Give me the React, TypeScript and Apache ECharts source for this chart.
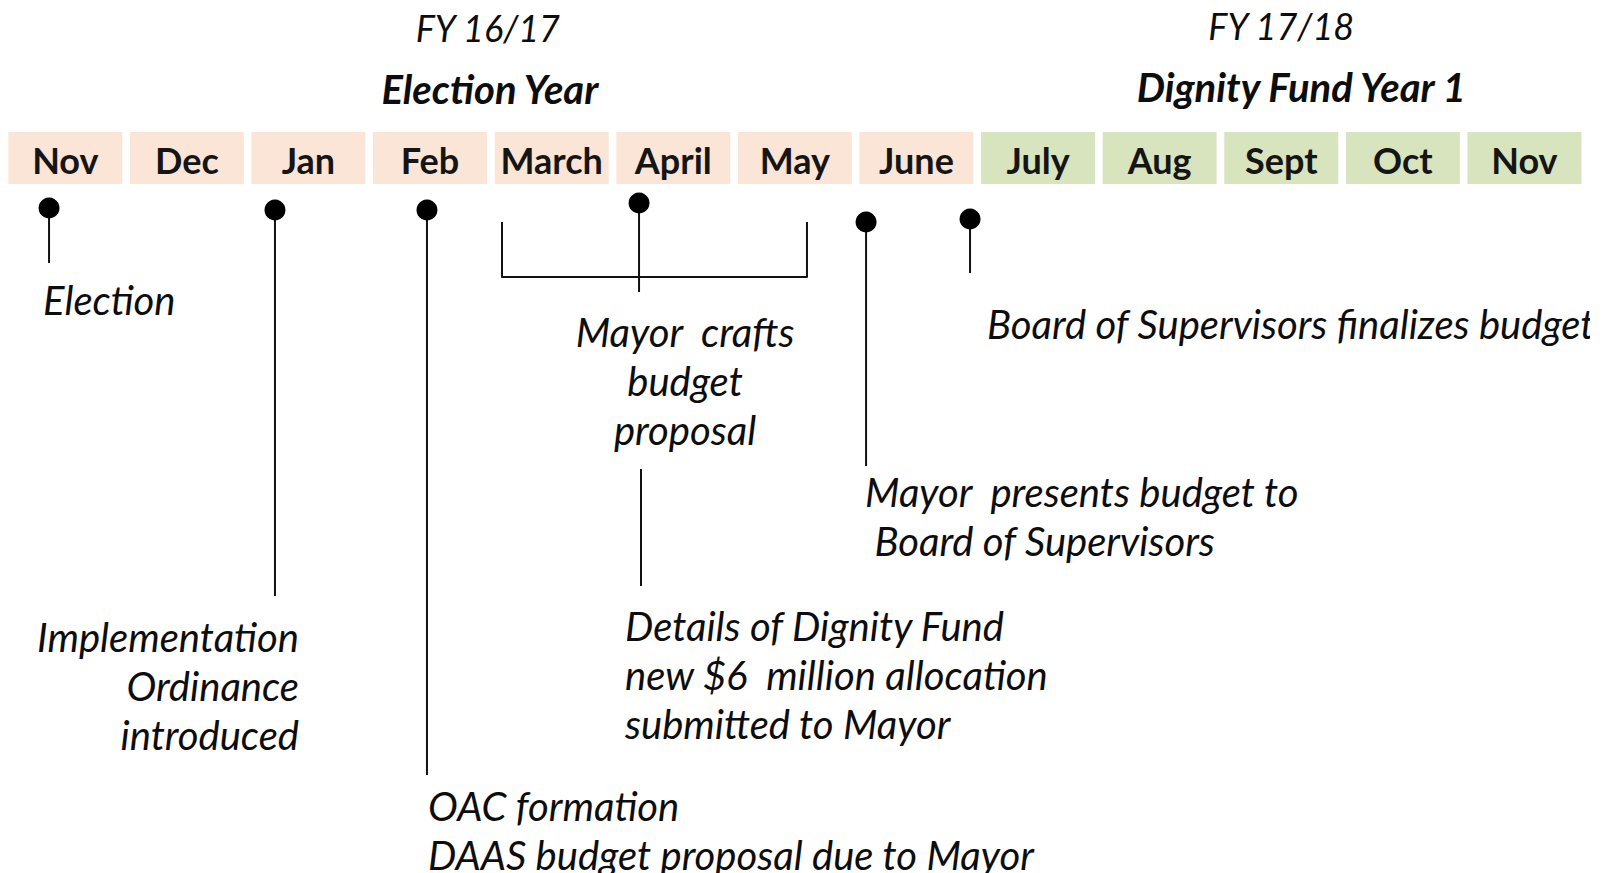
import React, { useEffect, useRef } from 'react';
import * as echarts from 'echarts';

// ---- data ----
const months = ['Nov', 'Dec', 'Jan', 'Feb', 'March', 'April', 'May', 'June', 'July', 'Aug', 'Sept', 'Oct', 'Nov'];
const monthPhase = [0, 0, 0, 0, 0, 0, 0, 0, 1, 1, 1, 1, 1];
const fiscalYears = ['FY 16/17', 'FY 17/18'];
const phaseTitles = ['Election Year', 'Dignity Fund Year 1'];

// milestone positions, in months from the first Nov
const milestoneMonth = [0.335, 2.193, 3.443, 5.187, 7.054, 7.909];
const milestoneText = [
  ['Election'],
  ['Implementation', 'Ordinance', 'introduced'],
  ['OAC formation', 'DAAS budget proposal due to Mayor'],
  ['Mayor  crafts', 'budget', 'proposal'],
  ['Mayor  presents budget to', ' Board of Supervisors'],
  ['Board of Supervisors finalizes budget'],
];
// the "Mayor crafts budget proposal" period (March - May)
const rangeStart = [4.06];
const rangeEnd = [6.568];
// extra note hanging below the proposal
const noteMonth = [5.203];
const noteText = [['Details of Dignity Fund', 'new $6  million allocation', 'submitted to Mayor']];

// ---- layout / style ----
const FONT = 'Lato, "Open Sans", sans-serif';
const TEXT = '#0d0d0d';
const LINE = '#111111';
const phaseColors = ['#FBE5D6', '#D8E4BD'];
const BOX_W = 0.937;
const BOX_TOP = 132;
const BOX_BOTTOM = 184;
const MONTH_TEXT_Y = 160;
const LINE_H = 49;
const NOTE_SIZE = 40;
const titleLayout = [
  { y: [28, 89], dx: [-3, -1] },
  { y: [26, 87], dx: [0, 20] },
];
const pinLayout = [
  { dotY: 208, stemEnd: 263, labelDx: -6, labelY: 300, align: 'left' },
  { dotY: 210, stemEnd: 596, labelDx: 24, labelY: 637, align: 'right' },
  { dotY: 210, stemEnd: 775, labelDx: 1, labelY: 806, align: 'left' },
  { dotY: 203, stemEnd: 292, labelDx: 46, labelY: 332, align: 'center' },
  { dotY: 222, stemEnd: 466, labelDx: -1, labelY: 492, align: 'left' },
  { dotY: 219, stemEnd: 273, labelDx: 17, labelY: 324, align: 'left' },
];
const rangeLayout = { top: 222, bottom: 277 };
const noteLayout = [{ top: 469, bottom: 586, labelDx: -16, labelY: 626 }];

function textEl(x: number, y: number, text: string, opts: any) {
  return {
    type: 'text',
    x,
    y,
    style: {
      text,
      fill: TEXT,
      fontFamily: FONT,
      fontSize: NOTE_SIZE,
      fontStyle: 'italic',
      fontWeight: 'normal',
      align: 'left',
      verticalAlign: 'middle',
      ...opts,
    },
  };
}

export default function App() {
  const ref = useRef<HTMLDivElement>(null);

  useEffect(() => {
    if (!ref.current) return;
    const chart = echarts.init(ref.current, undefined, { renderer: 'svg' });

    const option: any = {
      animation: false,
      backgroundColor: '#ffffff',
      grid: { left: 8.3, top: 0, width: 121.6 * 13, height: 873, containLabel: false },
      xAxis: { type: 'value', min: 0, max: 13, show: false },
      yAxis: { type: 'value', min: 0, max: 873, inverse: true, show: false },
      series: [
        {
          type: 'custom',
          name: 'months',
          data: months.map((_, i) => [i, i]),
          renderItem: (params: any, api: any) => {
            const i = api.value(0);
            const p0 = api.coord([i, BOX_TOP]);
            const p1 = api.coord([i + BOX_W, BOX_BOTTOM]);
            const ty = api.coord([i, MONTH_TEXT_Y])[1];
            return {
              type: 'group',
              children: [
                {
                  type: 'rect',
                  shape: { x: p0[0], y: p0[1], width: p1[0] - p0[0], height: p1[1] - p0[1] },
                  style: { fill: phaseColors[monthPhase[i]] },
                },
                textEl((p0[0] + p1[0]) / 2, ty, months[i], {
                  align: 'center',
                  fontStyle: 'normal',
                  fontWeight: 'bold',
                  fontSize: 36,
                  fill: '#151515',
                }),
              ],
            };
          },
        },
        {
          type: 'custom',
          name: 'phases',
          data: fiscalYears.map((_, k) => [k, k]),
          renderItem: (params: any, api: any) => {
            const k = api.value(0);
            const idx = monthPhase.map((p, i) => (p === k ? i : -1)).filter((i) => i >= 0);
            const first = idx[0];
            const last = idx[idx.length - 1];
            const cx = (api.coord([first, 0])[0] + api.coord([last + BOX_W, 0])[0]) / 2;
            const L = titleLayout[k];
            return {
              type: 'group',
              children: [
                textEl(cx + L.dx[0], api.coord([0, L.y[0]])[1], fiscalYears[k], {
                  align: 'center',
                  fontSize: 36,
                }),
                textEl(cx + L.dx[1], api.coord([0, L.y[1]])[1], phaseTitles[k], {
                  align: 'center',
                  fontSize: 40,
                  fontWeight: 'bold',
                }),
              ],
            };
          },
        },
        {
          type: 'custom',
          name: 'range',
          data: rangeStart.map((s, k) => [s, rangeEnd[k]]),
          renderItem: (params: any, api: any) => {
            const a = api.coord([api.value(0), rangeLayout.top]);
            const b = api.coord([api.value(1), rangeLayout.bottom]);
            return {
              type: 'polyline',
              shape: { points: [[a[0], a[1]], [a[0], b[1]], [b[0], b[1]], [b[0], a[1]]] },
              style: { stroke: LINE, lineWidth: 2, fill: 'none', lineJoin: 'round' },
            };
          },
        },
        {
          type: 'custom',
          name: 'note',
          data: noteMonth.map((m, k) => [m, k]),
          renderItem: (params: any, api: any) => {
            const k = api.value(1);
            const L = noteLayout[k];
            const top = api.coord([api.value(0), L.top]);
            const bottom = api.coord([api.value(0), L.bottom]);
            const children: any[] = [
              {
                type: 'line',
                shape: { x1: top[0], y1: top[1], x2: bottom[0], y2: bottom[1] },
                style: { stroke: LINE, lineWidth: 2 },
              },
            ];
            noteText[k].forEach((t, j) => {
              children.push(textEl(top[0] + L.labelDx, api.coord([0, L.labelY + j * LINE_H])[1], t, {}));
            });
            return { type: 'group', children };
          },
        },
        {
          type: 'custom',
          name: 'milestones',
          clip: true,
          data: milestoneMonth.map((m, k) => [m, k]),
          renderItem: (params: any, api: any) => {
            const k = api.value(1);
            const L = pinLayout[k];
            const dot = api.coord([api.value(0), L.dotY]);
            const end = api.coord([api.value(0), L.stemEnd]);
            const children: any[] = [
              {
                type: 'line',
                shape: { x1: dot[0], y1: dot[1], x2: end[0], y2: end[1] },
                style: { stroke: LINE, lineWidth: 2 },
              },
              {
                type: 'circle',
                shape: { cx: dot[0], cy: dot[1], r: 10.5 },
                style: { fill: '#000000' },
              },
            ];
            milestoneText[k].forEach((t, j) => {
              children.push(
                textEl(dot[0] + L.labelDx, api.coord([0, L.labelY + j * LINE_H])[1], t, { align: L.align })
              );
            });
            return { type: 'group', children };
          },
        },
      ],
    };

    chart.setOption(option);
    return () => chart.dispose();
  }, []);

  return (
    <div
      ref={ref}
      style={{ position: 'fixed', left: 0, top: 0, width: 1606, height: 873, background: '#ffffff' }}
    />
  );
}
